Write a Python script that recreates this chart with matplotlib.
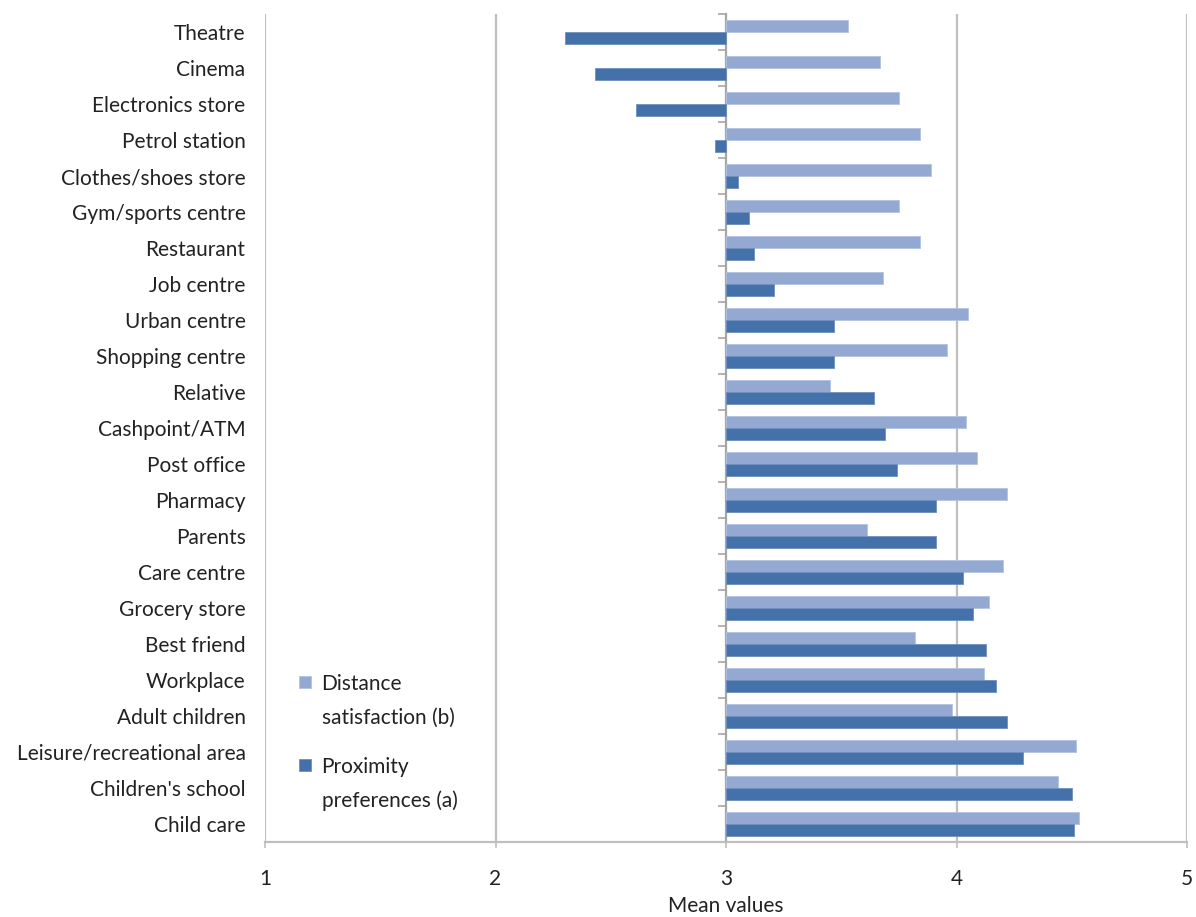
import numpy as np
import matplotlib.pyplot as plt
from matplotlib.patches import Rectangle
from matplotlib.legend_handler import HandlerPatch

# Mean values per destination
categories = ["Theatre", "Cinema", "Electronics store", "Petrol station",
              "Clothes/shoes store", "Gym/sports centre", "Restaurant",
              "Job centre", "Urban centre", "Shopping centre", "Relative",
              "Cashpoint/ATM", "Post office", "Pharmacy", "Parents",
              "Care centre", "Grocery store", "Best friend", "Workplace",
              "Adult children", "Leisure/recreational area",
              "Children's school", "Child care"]
satisfaction = [3.53, 3.67, 3.75, 3.84, 3.89, 3.75, 3.84, 3.68, 4.05, 3.96,
                3.45, 4.04, 4.09, 4.22, 3.61, 4.20, 4.14, 3.82, 4.12, 3.98,
                4.52, 4.44, 4.53]
proximity = [2.30, 2.43, 2.61, 2.95, 3.05, 3.10, 3.12, 3.21, 3.47, 3.47,
             3.64, 3.69, 3.74, 3.91, 3.91, 4.03, 4.07, 4.13, 4.17, 4.22,
             4.29, 4.50, 4.51]
series_labels = ["Distance\nsatisfaction (b)", "Proximity\npreferences (a)"]
xticks = [1, 2, 3, 4, 5]
origin = 3

light = "#93A9D1"
dark = "#4471A9"
grid = "#BFBFBF"
txt = "#222222"
fs = 15

plt.rcParams['font.family'] = ['Lato', 'DejaVu Sans']


def top_square(legend, orig_handle, xdescent, ydescent, width, height, fontsize):
    # square sitting level with the first line of a two-line label
    s = 0.56 * fontsize
    return Rectangle((-xdescent, -ydescent + height - s * 0.6), s, s)


fig = plt.figure(figsize=(11.96, 9.17), dpi=100)
ax = fig.add_axes([0.2216, 0.0818, 0.7709, 0.9029])

y = np.arange(len(categories))
h = 1 / 3
sat = np.array(satisfaction) - origin
prox = np.array(proximity) - origin
b1 = ax.barh(y - h / 2, sat, height=h, left=origin, color=light,
             edgecolor="#B3C3E0", linewidth=0.6)
b2 = ax.barh(y + h / 2, prox, height=h, left=origin, color=dark,
             edgecolor="#6F8FBE", linewidth=0.6)

ax.set_xlim(1, 5)
ax.set_ylim(len(categories) - 0.5, -0.5)

for x in xticks:
    if x != origin:
        ax.axvline(x, color=grid, lw=1.6, zorder=0)

ax.set_xticks(xticks)
ax.set_xticklabels([str(t) for t in xticks], fontsize=fs, color=txt)
ax.tick_params(axis='x', length=4, width=1.2, color=grid, pad=15.5)
ax.set_xlabel("Mean values", fontsize=fs, color=txt, labelpad=5)

ax.set_yticks(y)
ax.set_yticklabels(categories, fontsize=fs, color=txt)
ax.tick_params(axis='y', length=0, pad=14)

for s in ["top", "right", "left"]:
    ax.spines[s].set_visible(False)
ax.spines["bottom"].set_color(grid)
ax.spines["bottom"].set_linewidth(1.6)

# vertical axis crossing at 3 with tick marks between categories
sec = ax.secondary_yaxis(0.49999)
sec.spines["left"].set_color("#A6A6A6")
sec.spines["left"].set_linewidth(1.6)
sec.set_yticks(np.arange(len(categories) + 1) - 0.5)
sec.set_yticklabels([])
sec.tick_params(axis='y', direction='out', length=6, width=1.2, color="#A6A6A6")

h1, h2 = b1.patches[0], b2.patches[0]
handler = HandlerPatch(patch_func=top_square)
leg = ax.legend([h1, h2], series_labels, loc="lower left",
                bbox_to_anchor=(0.017, 0.0145),
                frameon=False, fontsize=fs, handlelength=0.56, handleheight=2.9,
                handletextpad=0.5, labelspacing=1.38,
                handler_map={h1: handler, h2: handler})
for t in leg.get_texts():
    t.set_color(txt)
    t.set_linespacing(1.85)

fig.savefig("out.png", dpi=100)
